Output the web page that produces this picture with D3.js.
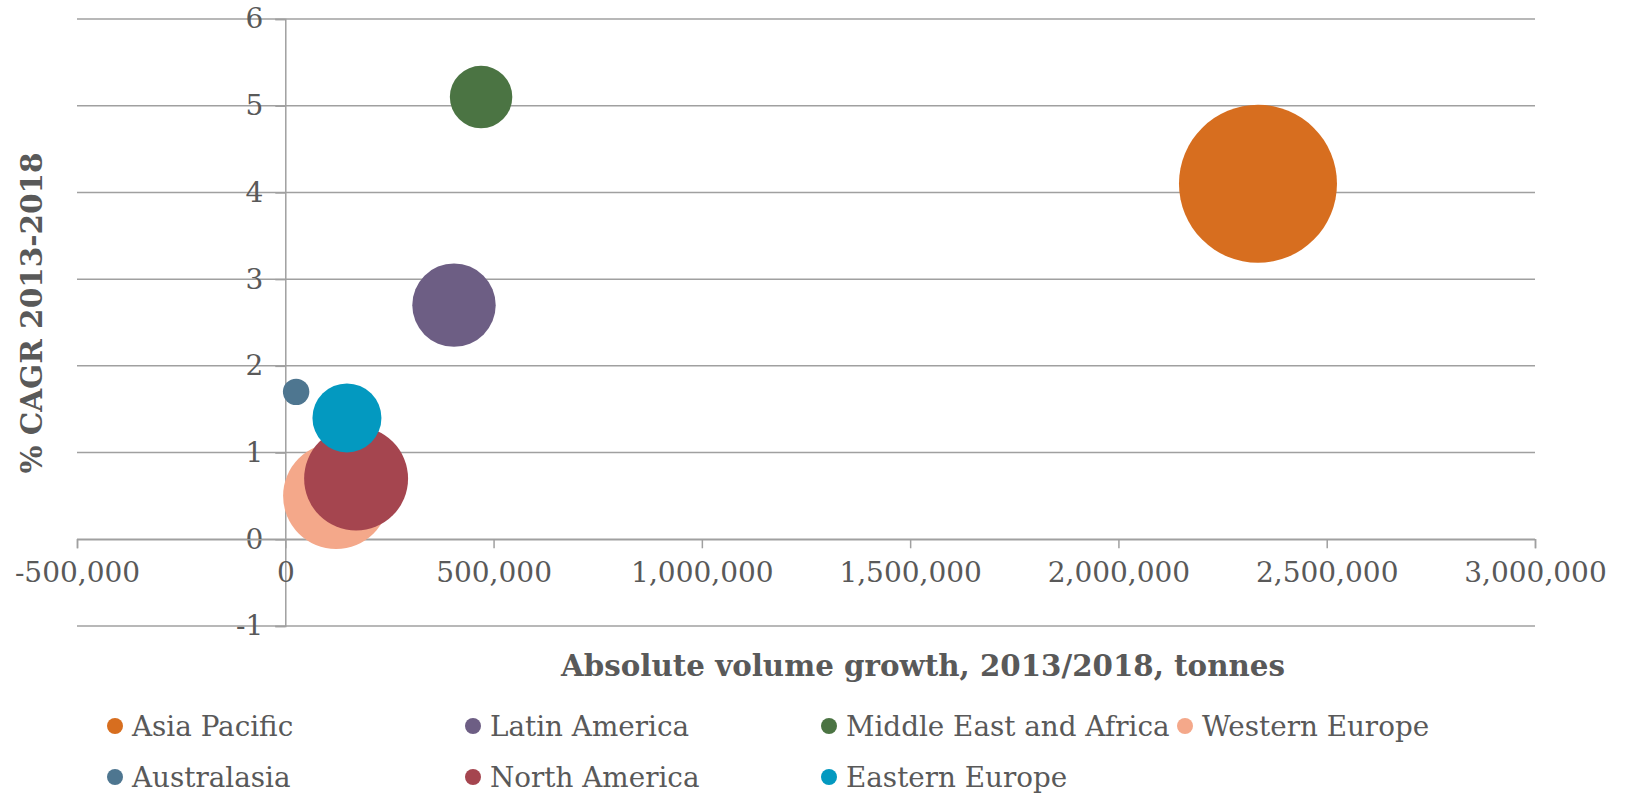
<!DOCTYPE html>
<html>
<head>
<meta charset="utf-8">
<script src="https://cdn.jsdelivr.net/npm/d3@7"></script>
<style>
    body { margin: 0; background: #fff; }
    svg text { font-family: "DejaVu Serif", Georgia, serif; fill: #595959; }
</style>
</head>
<body>
<svg id="chart"></svg>
<script>
// Chart data
const regions = ['Asia Pacific', 'Latin America', 'Middle East and Africa', 'Western Europe',
    'Australasia', 'North America', 'Eastern Europe'];
const volumeGrowth = [2335000, 405000, 470000, 122000, 26000, 170000, 148000];
const cagr = [4.1, 2.7, 5.1, 0.5, 1.7, 0.7, 1.4];
const bubbleSize = [6240, 1740, 975, 2810, 175, 2700, 1190];
const colors = ['#d76e1f', '#6d5e84', '#4b7443', '#f4a88a', '#4e7690', '#a5454f', '#0399c0'];

const xTickValues = [-500000, 0, 500000, 1000000, 1500000, 2000000, 2500000, 3000000];
const yTickValues = [-1, 0, 1, 2, 3, 4, 5, 6];

const width = 1630;
const height = 794;

const svg = d3.select('#chart')
    .attr('width', width)
    .attr('height', height);

// Scales
const x = d3.scaleLinear().domain([-500000, 3000000]).range([77, 1535]);
const y = d3.scaleLinear().domain([-1, 6]).range([626, 19]);
const r = d3.scaleSqrt().domain([0, d3.max(bubbleSize)]).range([0, 79]);

const gridColor = '#a0a0a0';

// plain hyphen instead of the unicode minus d3 uses
const hyphen = fmt => d => fmt(d).replace('\u2212', '-');

// Horizontal gridlines
svg.append('g')
    .selectAll('line')
    .data(yTickValues)
    .enter()
    .append('line')
    .attr('x1', x.range()[0])
    .attr('x2', x.range()[1])
    .attr('y1', d => y(d))
    .attr('y2', d => y(d))
    .attr('stroke', gridColor)
    .attr('stroke-width', 1.5);

// Y axis at x = 0
const yAxis = d3.axisLeft(y)
    .tickValues(yTickValues)
    .tickSize(10)
    .tickPadding(12)
    .tickFormat(hyphen(d3.format('d')));

svg.append('g')
    .attr('transform', `translate(${x(0)},0)`)
    .call(yAxis)
    .call(g => g.select('.domain').attr('stroke', gridColor).attr('stroke-width', 1.5))
    .call(g => g.selectAll('.tick line').attr('stroke', gridColor).attr('stroke-width', 1.5))
    .call(g => g.selectAll('.tick text')
        .style('font-size', '28px')
        .style('font-family', '"DejaVu Serif", serif')
        .attr('fill', '#595959'));

// X axis at y = 0
const xAxis = d3.axisBottom(x)
    .tickValues(xTickValues)
    .tickSize(9)
    .tickPadding(14)
    .tickFormat(hyphen(d3.format(',')));

svg.append('g')
    .attr('transform', `translate(0,${y(0)})`)
    .call(xAxis)
    .call(g => g.select('.domain').attr('stroke', gridColor).attr('stroke-width', 1.5))
    .call(g => g.selectAll('.tick line').attr('stroke', gridColor).attr('stroke-width', 1.5))
    .call(g => g.selectAll('.tick text')
        .style('font-size', '28px')
        .style('font-family', '"DejaVu Serif", serif')
        .attr('fill', '#595959'));

// Bubbles
const bubbles = regions.map((name, i) => ({
    name,
    x: volumeGrowth[i],
    y: cagr[i],
    size: bubbleSize[i],
    color: colors[i]
}));

svg.append('g')
    .selectAll('circle')
    .data(bubbles)
    .enter()
    .append('circle')
    .attr('cx', d => x(d.x))
    .attr('cy', d => y(d.y))
    .attr('r', d => r(d.size))
    .attr('fill', d => d.color);

// Axis titles
svg.append('text')
    .attr('x', 923)
    .attr('y', 665)
    .attr('text-anchor', 'middle')
    .attr('dominant-baseline', 'central')
    .style('font-size', '29.3px')
    .style('font-weight', 'bold')
    .text('Absolute volume growth, 2013/2018, tonnes');

svg.append('text')
    .attr('transform', 'translate(31,313) rotate(-90)')
    .attr('text-anchor', 'middle')
    .attr('dominant-baseline', 'central')
    .style('font-size', '29.5px')
    .style('font-weight', 'bold')
    .text('% CAGR 2013-2018');

// Legend (4 columns, 2 rows)
const legendX = [115, 473, 829, 1185];
const legendY = [726, 777];

const legendItems = svg.append('g')
    .selectAll('g')
    .data(bubbles)
    .enter()
    .append('g')
    .attr('transform', (d, i) => `translate(${legendX[i % 4]},${legendY[Math.floor(i / 4)]})`);

legendItems.append('circle')
    .attr('r', 8)
    .attr('fill', d => d.color);

legendItems.append('text')
    .attr('x', 17)
    .attr('dominant-baseline', 'central')
    .style('font-size', '27.8px')
    .text(d => d.name);
</script>
</body>
</html>
